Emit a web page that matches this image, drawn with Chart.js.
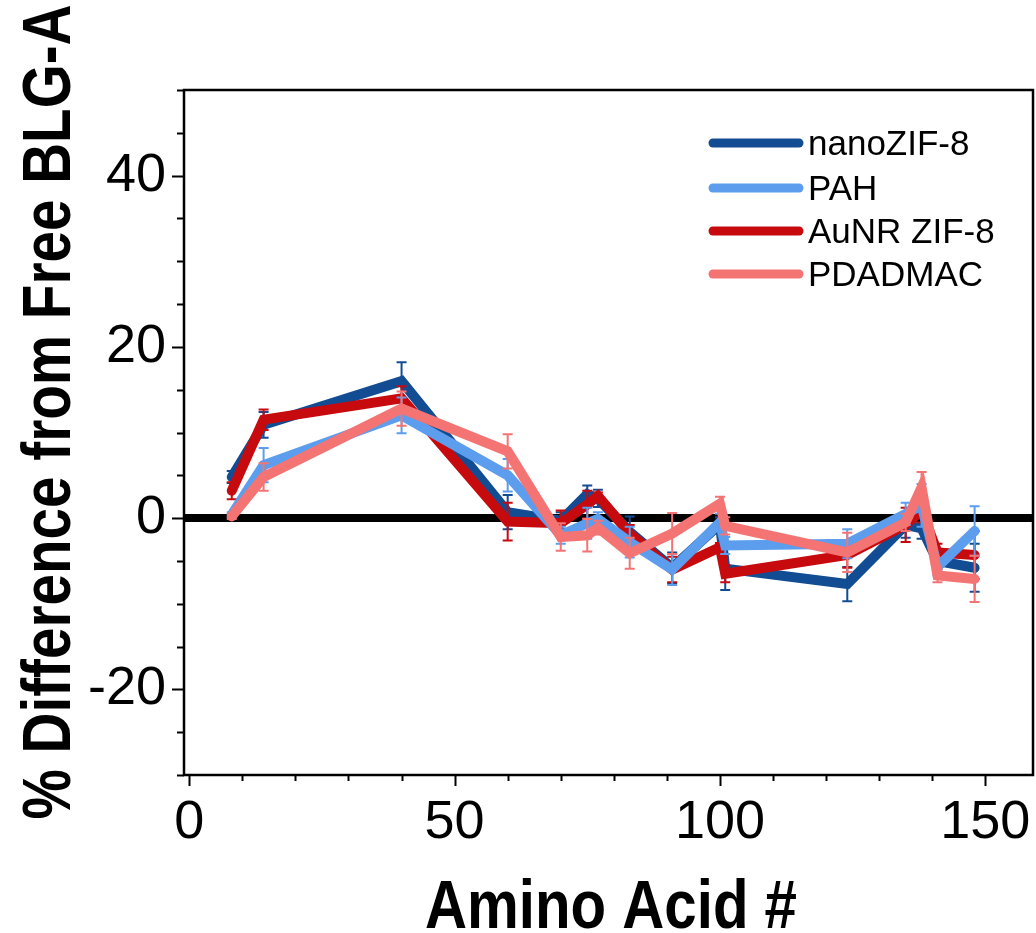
<!DOCTYPE html>
<html>
<head>
<meta charset="utf-8">
<script src="https://cdn.jsdelivr.net/npm/chart.js@4.4.1/dist/chart.umd.min.js"></script>
<style>
  html, body { margin: 0; padding: 0; background: #fff; }
  #chart { display: block; }
</style>
</head>
<body>
<canvas id="chart" width="1036" height="933"></canvas>
<script>
// ---------------- DATA ----------------
const aminoAcids = [8, 14, 40, 60, 70, 75, 77, 83, 91, 100, 101, 124, 135, 138, 141, 148];

const nanoZif = [4.8, 10.9, 16.0, 0.7, -0.3, 2.8, 2.3, -1.6, -5.8, -0.7, -5.9, -7.7, -0.8, -1.2, -5.0, -5.8];
const nanoZifErr = [0.7, 1.5, 2.2, 2.0, 1.0, 1.0, 1.0, 1.8, 1.8, 0.8, 2.5, 2.0, 1.5, 1.2, 1.0, 2.8];

const pah = [0.4, 6.2, 12.0, 5.0, -2.0, -0.6, -0.1, -2.8, -6.0, -0.5, -3.2, -3.0, 0.5, 1.5, -5.7, -1.5];
const pahErr = [0.3, 2.0, 2.1, 1.9, 1.0, 1.8, 0.8, 1.8, 1.8, 1.0, 1.0, 1.7, 1.3, 2.5, 1.0, 2.9];

const aunrZif = [3.2, 11.5, 14.0, -0.4, -0.6, 1.6, 2.6, -1.8, -6.0, -3.4, -6.5, -4.3, -0.8, 0.9, -4.0, -4.3];
const aunrZifErr = [1.0, 1.2, 1.4, 2.2, 1.5, 1.6, 0.4, 1.0, 1.5, 0.5, 1.0, 1.5, 2.0, 1.4, 1.0, 2.8];

const pdadmac = [0.2, 4.8, 12.8, 7.8, -2.2, -2.0, -1.1, -4.1, -1.8, 1.7, -0.9, -4.0, -0.5, 3.6, -6.7, -7.1];
const pdadmacErr = [0.3, 1.6, 2.0, 2.0, 1.6, 1.9, 0.8, 1.8, 2.4, 0.8, 1.0, 2.3, 1.0, 1.8, 0.8, 2.7];

const seriesNames = ["nanoZIF-8", "PAH", "AuNR ZIF-8", "PDADMAC"];
const xTickLabels = [0, 50, 100, 150];
const yTickLabels = [-20, 0, 20, 40];

const xTitle = "Amino Acid #";
const yTitle = "% Difference from Free BLG-A";

// ---------------- STYLE ----------------
const colors = ["#124d94", "#5c9ded", "#c60a0e", "#f47474"];
// higher order is drawn first (underneath)
const drawOrder = [3, 1, 2, 0];

const tickFont = "'Liberation Sans', Arial, sans-serif";
const titleFont = "bold 68px 'Liberation Sans', Arial, sans-serif";

// ---------------- HELPERS ----------------
function points(values) {
    return aminoAcids.map((x, i) => ({ x, y: values[i] }));
}

function makeDataset(i, values, errors) {
    return {
        label: seriesNames[i],
        data: points(values),
        errors,
        borderColor: colors[i],
        backgroundColor: colors[i],
        borderWidth: 10,
        borderCapStyle: "round",
        borderJoinStyle: "miter",
        pointRadius: 0,
        tension: 0,
        order: drawOrder[i]
    };
}

// text squeezed horizontally to a given width (condensed look)
function fitText(ctx, text, width) {
    const w = ctx.measureText(text).width;
    ctx.save();
    ctx.scale(width / w, 1);
    ctx.fillText(text, 0, 0);
    ctx.restore();
}

// ---------------- PLUGINS ----------------
// vertical error bars with caps, drawn right after each line
const errorBars = {
    id: "errorBars",
    afterDatasetDraw(chart, args) {
        const ds = chart.data.datasets[args.index];
        if (!ds.errors) return;

        const { ctx, scales: { y } } = chart;
        const cap = 5;

        ctx.save();
        ctx.strokeStyle = ds.borderColor;
        ctx.lineWidth = 2;

        args.meta.data.forEach((pt, i) => {
            const v = ds.data[i].y;
            const e = ds.errors[i];
            const top = y.getPixelForValue(v + e);
            const bot = y.getPixelForValue(v - e);

            ctx.beginPath();
            ctx.moveTo(pt.x, top);
            ctx.lineTo(pt.x, bot);
            ctx.moveTo(pt.x - cap, top);
            ctx.lineTo(pt.x + cap, top);
            ctx.moveTo(pt.x - cap, bot);
            ctx.lineTo(pt.x + cap, bot);
            ctx.stroke();
        });

        ctx.restore();
    }
};

// box frame, outward major/minor ticks, titles and legend
const decorations = {
    id: "decorations",
    afterDraw(chart) {
        const { ctx, chartArea: a, scales: { x, y } } = chart;

        ctx.save();
        ctx.strokeStyle = "#000";
        ctx.lineWidth = 2;

        ctx.beginPath();
        for (let v = 0; v <= 150; v += 10) {
            const px = Math.round(x.getPixelForValue(v)) + 0.5;
            const len = v % 50 === 0 ? 11 : 6;
            ctx.moveTo(px, a.bottom);
            ctx.lineTo(px, a.bottom + len);
        }
        for (let v = -30; v <= 50; v += 5) {
            const py = Math.round(y.getPixelForValue(v)) + 0.5;
            const len = v % 20 === 0 ? 12 : 7;
            ctx.moveTo(a.left, py);
            ctx.lineTo(a.left - len, py);
        }
        ctx.stroke();

        ctx.lineWidth = 2.5;
        ctx.strokeRect(a.left, a.top, a.right - a.left, a.bottom - a.top);

        // axis titles
        ctx.fillStyle = "#000";
        ctx.font = titleFont;
        ctx.textAlign = "center";
        ctx.textBaseline = "alphabetic";

        ctx.save();
        ctx.translate(611, 928);
        fitText(ctx, xTitle, 372);
        ctx.restore();

        ctx.save();
        ctx.translate(70, 412);
        ctx.rotate(-Math.PI / 2);
        fitText(ctx, yTitle, 815);
        ctx.restore();

        // legend
        const lx = 713, lw = 86, rowY = [143, 188, 231, 274];
        ctx.font = "35px " + tickFont;
        ctx.textAlign = "left";
        ctx.textBaseline = "middle";
        ctx.lineCap = "round";
        ctx.lineWidth = 9;
        seriesNames.forEach((name, i) => {
            ctx.strokeStyle = colors[i];
            ctx.beginPath();
            ctx.moveTo(lx, rowY[i]);
            ctx.lineTo(lx + lw, rowY[i]);
            ctx.stroke();
            ctx.fillText(name, 808, rowY[i] + 2);
        });

        ctx.restore();
    }
};

// ---------------- CHART ----------------
const chart = new Chart(document.getElementById("chart"), {
    type: "line",

    data: {
        datasets: [
            makeDataset(0, nanoZif, nanoZifErr),
            makeDataset(1, pah, pahErr),
            makeDataset(2, aunrZif, aunrZifErr),
            makeDataset(3, pdadmac, pdadmacErr)
        ]
    },

    options: {
        responsive: false,
        animation: false,
        devicePixelRatio: 1,
        layout: {
            autoPadding: false,
            padding: { top: 90, right: 3, left: 0, bottom: 0 }
        },
        plugins: {
            legend: { display: false },
            tooltip: { enabled: false }
        },
        scales: {
            x: {
                type: "linear",
                min: -1,
                max: 159,
                border: { display: false },
                grid: { display: false, drawTicks: false },
                afterBuildTicks(scale) {
                    scale.ticks = xTickLabels.map((v) => ({ value: v }));
                },
                ticks: {
                    padding: 16,
                    color: "#000",
                    autoSkip: false,
                    maxRotation: 0,
                    font: { family: tickFont, size: 54 }
                },
                afterFit(scale) {
                    scale.height = 158;
                    scale.paddingLeft = 0;
                    scale.paddingRight = 0;
                }
            },
            y: {
                type: "linear",
                min: -30,
                max: 50,
                border: { display: false },
                grid: {
                    drawTicks: false,
                    color: (c) => c.tick && c.tick.value === 0 ? "#000" : "rgba(0,0,0,0)",
                    lineWidth: (c) => c.tick && c.tick.value === 0 ? 8 : 0
                },
                afterBuildTicks(scale) {
                    scale.ticks = yTickLabels.map((v) => ({ value: v }));
                },
                ticks: {
                    padding: 18,
                    color: "#000",
                    autoSkip: false,
                    font: { family: tickFont, size: 54 }
                },
                afterFit(scale) {
                    scale.width = 184;
                    scale.paddingTop = 0;
                    scale.paddingBottom = 0;
                }
            }
        }
    },

    plugins: [errorBars, decorations]
});
</script>
</body>
</html>
